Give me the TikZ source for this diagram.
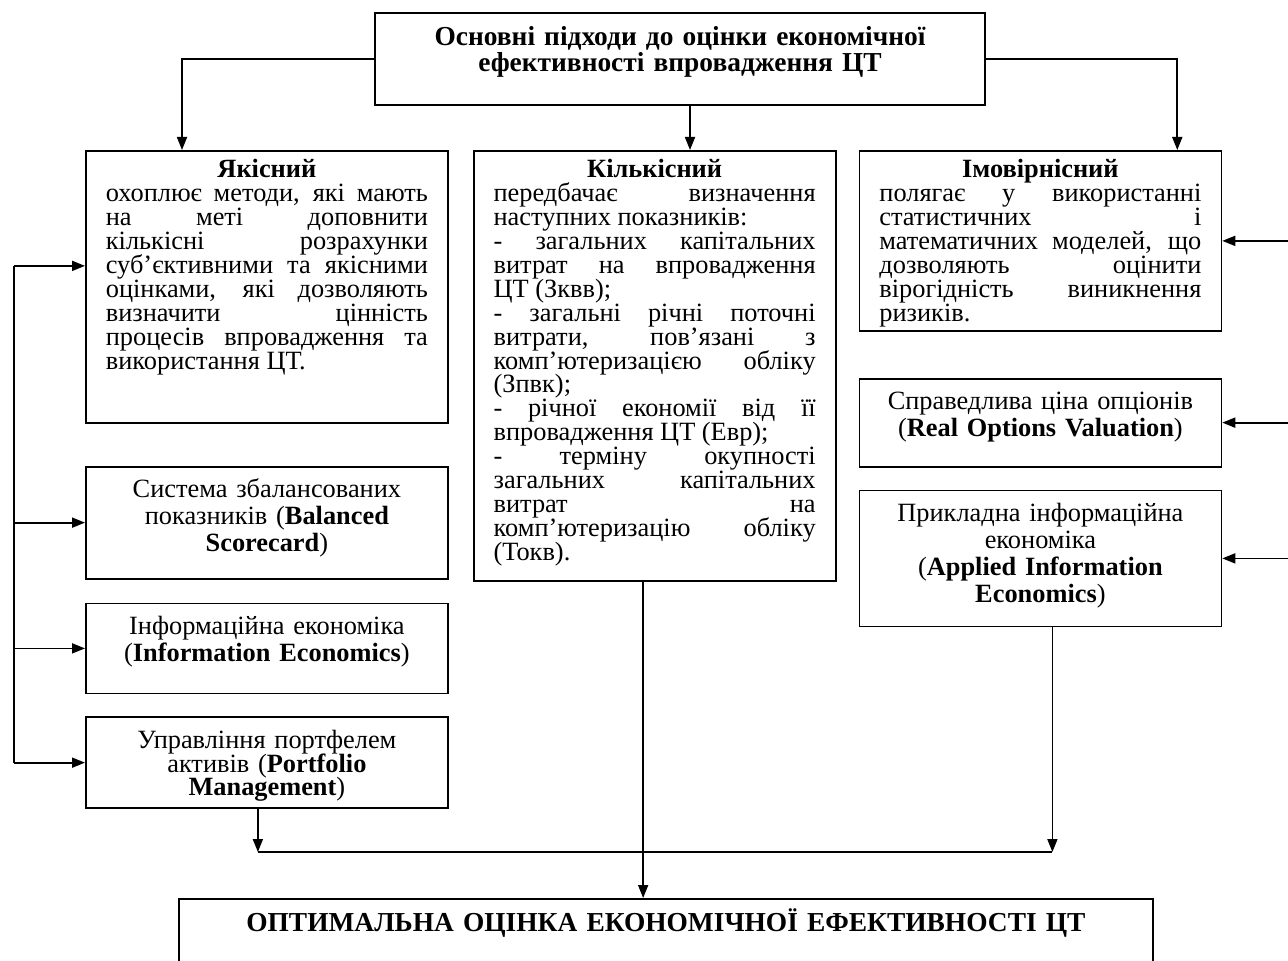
\documentclass[tikz,border=0pt]{standalone}
\usepackage{fontspec}
\setmainfont{Liberation Serif}
\usetikzlibrary{arrows.meta,positioning}
\newcommand{\boxfont}{\fontsize{15}{13.6}\selectfont\lineskiplimit=-20pt
  \hyphenpenalty=10000\tolerance=10000}
\newcommand{\methodfont}{\fontsize{15}{15.4}\selectfont\lineskiplimit=-20pt}
\newcommand{\capfont}{\bfseries\fontsize{15.6}{14.8}\selectfont}
\tikzset{
  block/.style={draw,line width=1pt,inner xsep=0.4cm,inner ysep=0.18cm,
    text width=6.44cm,text height=0.36cm,font=\boxfont,align=justify},
  method/.style={block,align=center,text height=0.44cm,font=\methodfont},
  head/.style={draw,line width=1pt,inner xsep=0.4cm,inner ysep=0.24cm,
    text height=0.42cm,align=center,font=\capfont},
  link/.style={-{Triangle[length=0.26cm,width=0.2cm]},line width=1pt}
}

\begin{document}
\begin{tikzpicture}
  \useasboundingbox (0,0) rectangle (25.76,-19.2);
  % heading
  \node[head,anchor=north,text width=11.4cm,text depth=0.94cm] (top) at (13.6,-0.24)
    {Основні підходи до оцінки економічної\\ефективності впровадження ЦТ};
  % the three approaches
  \node[block,anchor=north west,text depth=4.72cm] (qual) at (1.7,-3)
    {{\centering\bfseries Якісний\par}
     охоплює методи, які мають\linebreak на меті доповнити\linebreak
     кількісні розрахунки\linebreak суб’єктивними та якісними\linebreak
     оцінками, які дозволяють\linebreak визначити цінність\linebreak
     процесів впровадження та\linebreak використання ЦТ.};
  \node[block,right=0.48cm of qual.north east,anchor=north west,text depth=7.88cm] (quant)
    {{\centering\bfseries Кількісний\par}
     передбачає визначення\linebreak наступних показників:\par
     - загальних капітальних\linebreak витрат на впровадження\linebreak ЦТ (Зквв);\par
     - загальні річні поточні\linebreak витрати, пов’язані з\linebreak
     комп’ютеризацією обліку\linebreak (Зпвк);\par
     - річної економії від її\linebreak впровадження ЦТ (Евр);\par
     - терміну окупності\linebreak загальних капітальних\linebreak витрат на\linebreak
     комп’ютеризацію обліку\linebreak (Токв).};
  \node[block,right=0.44cm of quant.north east,anchor=north west,text depth=2.88cm] (prob)
    {{\centering\bfseries Імовірнісний\par}
     полягає у використанні\linebreak статистичних і\linebreak
     математичних моделей, що\linebreak дозволяють оцінити\linebreak
     вірогідність виникнення\linebreak ризиків.};
  % methods
  \node[method,below=0.84cm of qual,text depth=1.44cm] (bsc)
    {Система збалансованих\\показників (\textbf{Balanced}\\\textbf{Scorecard})};
  \node[method,below=0.46cm of bsc,text depth=1cm] (infe)
    {Інформаційна економіка\\(\textbf{Information Economics})};
  \node[method,below=0.44cm of infe,text depth=1.02cm,font=\boxfont] (mgmt)
    {Управління портфелем\\активів (\textbf{Portfolio}\\\textbf{Management})};
  \node[method,below=0.92cm of prob,text depth=0.96cm] (rov)
    {Справедлива ціна опціонів\\(\textbf{Real Options Valuation})};
  \node[method,below=0.44cm of rov,text depth=1.92cm] (aie)
    {Прикладна інформаційна\\економіка\\(\textbf{Applied Information}\\\textbf{Economics})};
  % result
  \node[head,anchor=north west,text width=18.68cm,text depth=1.6cm] (result) at (3.56,-17.96)
    {ОПТИМАЛЬНА ОЦІНКА ЕКОНОМІЧНОЇ ЕФЕКТИВНОСТІ ЦТ};

  \coordinate (lbus) at (0.28,0);
  \coordinate (rbus) at (25.76,0);
  \coordinate (mrg) at (0,-17.04);

  \draw[link] (top.west) -| ([xshift=1.94cm]qual.north west);
  \draw[link] (top.east) -| ([xshift=-0.9cm]prob.north east);
  \draw[link] ([xshift=0.2cm]top.south) -- ([xshift=0.2cm]top.south |- quant.north);

  \coordinate (qin) at ([yshift=0.42cm]qual.west);
  \draw[line width=1pt] (lbus |- qin) -- (lbus |- mgmt.west);
  \foreach \t in {qin,bsc.west,infe.west,mgmt.west}
    \draw[link] (lbus |- \t) -- (\t);
  \foreach \t in {prob,rov,aie}
    \draw[link] (rbus |- \t.east) -- (\t.east);

  \coordinate (pin) at ([xshift=-0.18cm]mgmt.south);
  \coordinate (ain) at ([xshift=0.24cm]aie.south);
  \draw[link] (pin) -- (pin |- mrg);
  \draw[link] (ain) -- (ain |- mrg);
  \draw[line width=1pt] (pin |- mrg) -- (ain |- mrg);
  \draw[link] ([xshift=-0.23cm]quant.south) -- ([xshift=-0.23cm]quant.south |- result.north);
\end{tikzpicture}
\end{document}
